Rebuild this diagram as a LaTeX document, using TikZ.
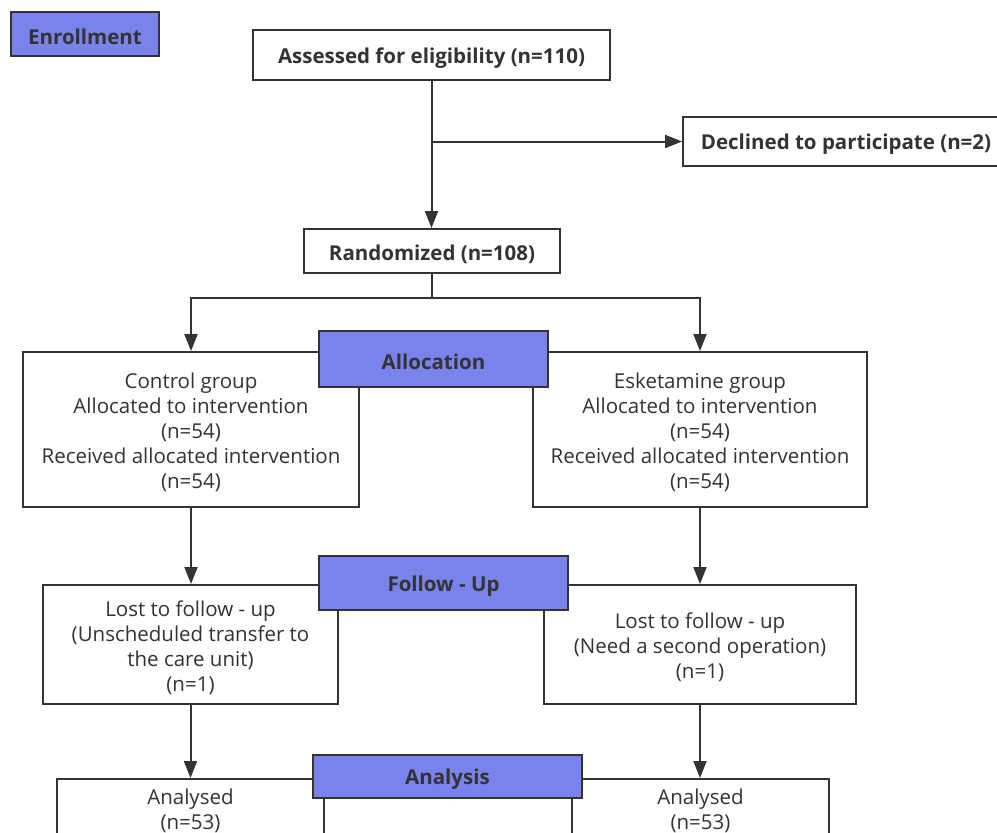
\documentclass[tikz,border=0pt]{standalone}
\usepackage{fontspec}
\setmainfont{Open Sans}
\usetikzlibrary{arrows.meta}
\definecolor{lblfill}{RGB}{122,131,235}
\definecolor{lncol}{RGB}{51,51,51}
\definecolor{txtcol}{RGB}{51,51,51}
\newcommand\flowtopstrut{\rule{0pt}{21.5pt}}
\begin{document}
\begin{tikzpicture}[x=1pt,y=-1pt,
  box/.style={draw=lncol, line width=2pt, fill=white, text=txtcol, align=center, inner sep=0pt, font=\fontsize{20.5}{25}\selectfont},
  bbox/.style={box, font=\fontsize{20.5}{25}\selectfont\bfseries, execute at begin node={\flowtopstrut}},
  lab/.style={bbox, fill=lblfill},
  conn/.style={draw=lncol, line width=2pt},
  arr/.style={conn, -{Triangle[length=17pt,width=13pt]}}]
\useasboundingbox (0,0) rectangle (997,833);
\clip (0,0) rectangle (997,833);
\fill[white] (0,0) rectangle (997,833);
\coordinate (split) at (0,298);
\node[lab, minimum width=148pt, minimum height=44pt] (enroll) at (85,34) {Enrollment};
\node[bbox, minimum width=357pt, minimum height=50pt] (assess) at (431.5,55) {Assessed for eligibility (n=110)};
\node[bbox, minimum width=326pt, minimum height=49pt] (decl) at (846,141.5) {Declined to participate (n=2)};
\node[bbox, minimum width=256pt, minimum height=44pt] (rand) at (432,251) {Randomized (n=108)};
\node[box, minimum width=336pt, minimum height=155pt] (ctrl) at (191,429.5) {\flowtopstrut Control group\\Allocated to intervention\\(n=54)\\Received allocated intervention\\(n=54)};
\node[box, minimum width=334pt, minimum height=155pt] (esk) at (700,429.5) {\flowtopstrut Esketamine group\\Allocated to intervention\\(n=54)\\Received allocated intervention\\(n=54)};
\node[lab, minimum width=229pt, minimum height=56pt] (alloc) at (433.5,359) {Allocation};
\node[box, minimum width=295pt, minimum height=119pt] (fuL) at (190.5,644.5) {\flowtopstrut Lost to follow - up\\(Unscheduled transfer to\\the care unit)\\(n=1)};
\node[box, minimum width=312pt, minimum height=119pt] (fuR) at (700,644.5) {\flowtopstrut Lost to follow - up\\(Need a second operation)\\(n=1)};
\node[lab, minimum width=249pt, minimum height=54pt] (fulab) at (443.5,583) {Follow - Up};
\node[box, minimum width=267pt, minimum height=63pt] (anL) at (190.5,810.5) {Analysed\\(n=53)};
\node[box, minimum width=257pt, minimum height=63pt] (anR) at (700.5,810.5) {Analysed\\(n=53)};
\node[lab, minimum width=269pt, minimum height=43pt] (anlab) at (447.5,776.5) {Analysis};
\draw[arr] (assess.south) -- (assess.south |- rand.north);
\draw[arr] (assess.south |- decl.west) -- (decl.west);
\draw[conn] (rand.south) -- (rand.south |- split);
\draw[arr] (rand.south |- split) -| (ctrl.north);
\draw[arr] (rand.south |- split) -| (esk.north);
\draw[arr] (ctrl.south) -- (ctrl.south |- fuL.north);
\draw[arr] (esk.south) -- (esk.south |- fuR.north);
\draw[arr] (fuL.south) -- (fuL.south |- anL.north);
\draw[arr] (fuR.south) -- (fuR.south |- anR.north);
\end{tikzpicture}
\end{document}
